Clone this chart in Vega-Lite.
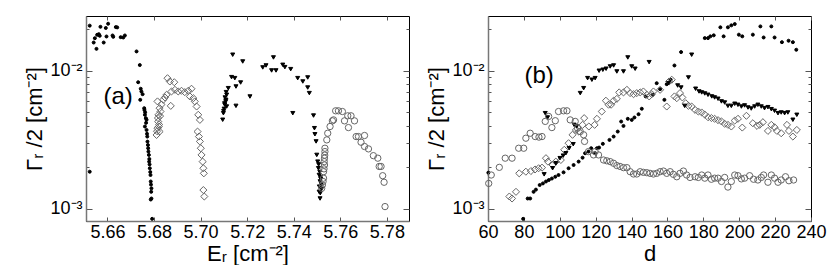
{
"$schema": "https://vega.github.io/schema/vega-lite/v6.json",
"background": "white",
"padding": {"left": 23, "top": 15, "right": 5, "bottom": 0},
"config": {
  "font": "Liberation Sans",
  "view": {"stroke": "#000", "strokeWidth": 1},
  "axis": {"labelFont": "Liberation Sans", "labelFontSize": 18, "labelColor": "#000", "titleFont": "Liberation Sans", "titleFontSize": 22, "titleFontWeight": "normal", "titleColor": "#000", "domainColor": "#777", "domainWidth": 1.5, "tickColor": "#555", "grid": false}
},
"spacing": 15,
"datasets": {
"a": [
{"E":5.6524,"G":0.0212,"s":"dot"},{"E":5.6570,"G":0.0208,"s":"dot"},{"E":5.6603,"G":0.0219,"s":"dot"},{"E":5.6593,"G":0.0204,"s":"dot"},{"E":5.6636,"G":0.0207,"s":"dot"},{"E":5.6642,"G":0.0206,"s":"dot"},{"E":5.6546,"G":0.0172,"s":"dot"},{"E":5.6541,"G":0.0160,"s":"dot"},{"E":5.6556,"G":0.0182,"s":"dot"},{"E":5.6567,"G":0.0179,"s":"dot"},{"E":5.6584,"G":0.0160,"s":"dot"},{"E":5.6596,"G":0.0177,"s":"dot"},{"E":5.6622,"G":0.0180,"s":"dot"},{"E":5.6625,"G":0.0176,"s":"dot"},{"E":5.6657,"G":0.0175,"s":"dot"},{"E":5.6668,"G":0.0174,"s":"dot"},{"E":5.6675,"G":0.0180,"s":"dot"},{"E":5.6553,"G":0.0144,"s":"dot"},{"E":5.6563,"G":0.0184,"s":"dot"},{"E":5.6524,"G":0.00186,"s":"dot"},{"E":5.6725,"G":0.0138,"s":"dot"},{"E":5.6739,"G":0.0110,"s":"dot"},{"E":5.6732,"G":0.00826,"s":"dot"},{"E":5.6743,"G":0.00741,"s":"dot"},{"E":5.6746,"G":0.00708,"s":"dot"},{"E":5.6751,"G":0.00677,"s":"dot"},{"E":5.6741,"G":0.00616,"s":"dot"},{"E":5.6758,"G":0.00536,"s":"dot"},{"E":5.6762,"G":0.00500,"s":"dot"},{"E":5.6759,"G":0.00520,"s":"dot"},{"E":5.6761,"G":0.00480,"s":"dot"},{"E":5.6765,"G":0.00454,"s":"dot"},{"E":5.6768,"G":0.00442,"s":"dot"},{"E":5.6766,"G":0.00420,"s":"dot"},{"E":5.6761,"G":0.00395,"s":"dot"},{"E":5.6768,"G":0.00373,"s":"dot"},{"E":5.6770,"G":0.00350,"s":"dot"},{"E":5.6771,"G":0.00334,"s":"dot"},{"E":5.6772,"G":0.00307,"s":"dot"},{"E":5.6774,"G":0.00290,"s":"dot"},{"E":5.6775,"G":0.00275,"s":"dot"},{"E":5.6776,"G":0.00260,"s":"dot"},{"E":5.6778,"G":0.00246,"s":"dot"},{"E":5.6780,"G":0.00230,"s":"dot"},{"E":5.6779,"G":0.00220,"s":"dot"},{"E":5.6781,"G":0.00210,"s":"dot"},{"E":5.6782,"G":0.00197,"s":"dot"},{"E":5.6784,"G":0.00185,"s":"dot"},{"E":5.6785,"G":0.00176,"s":"dot"},{"E":5.6786,"G":0.00158,"s":"dot"},{"E":5.6787,"G":0.00150,"s":"dot"},{"E":5.6789,"G":0.00141,"s":"dot"},{"E":5.6788,"G":0.00133,"s":"dot"},{"E":5.6789,"G":0.00119,"s":"dot"},{"E":5.6786,"G":0.00117,"s":"dot"},{"E":5.6792,"G":0.000848,"s":"dot"},
{"E":5.6811,"G":0.00343,"s":"diamond"},{"E":5.6815,"G":0.00384,"s":"diamond"},{"E":5.6818,"G":0.00429,"s":"diamond"},{"E":5.6819,"G":0.00480,"s":"diamond"},{"E":5.6824,"G":0.00536,"s":"diamond"},{"E":5.6828,"G":0.00507,"s":"diamond"},{"E":5.6822,"G":0.00408,"s":"diamond"},{"E":5.6824,"G":0.00363,"s":"diamond"},{"E":5.6817,"G":0.00455,"s":"diamond"},{"E":5.6821,"G":0.00395,"s":"diamond"},{"E":5.6813,"G":0.00365,"s":"diamond"},{"E":5.6826,"G":0.00470,"s":"diamond"},{"E":5.6815,"G":0.00600,"s":"diamond"},{"E":5.6832,"G":0.00570,"s":"diamond"},{"E":5.6840,"G":0.00617,"s":"diamond"},{"E":5.6847,"G":0.00641,"s":"diamond"},{"E":5.6854,"G":0.00670,"s":"diamond"},{"E":5.6858,"G":0.00883,"s":"diamond"},{"E":5.6868,"G":0.00836,"s":"diamond"},{"E":5.6887,"G":0.00826,"s":"diamond"},{"E":5.6872,"G":0.00557,"s":"diamond"},{"E":5.6875,"G":0.00708,"s":"diamond"},{"E":5.6890,"G":0.00728,"s":"diamond"},{"E":5.6904,"G":0.00708,"s":"diamond"},{"E":5.6918,"G":0.00716,"s":"diamond"},{"E":5.6932,"G":0.00700,"s":"diamond"},{"E":5.6947,"G":0.00716,"s":"diamond"},{"E":5.6954,"G":0.00652,"s":"diamond"},{"E":5.6961,"G":0.00741,"s":"diamond"},{"E":5.6969,"G":0.00633,"s":"diamond"},{"E":5.6975,"G":0.00600,"s":"diamond"},{"E":5.6983,"G":0.00551,"s":"diamond"},{"E":5.6990,"G":0.00480,"s":"diamond"},{"E":5.6997,"G":0.00441,"s":"diamond"},{"E":5.6987,"G":0.00363,"s":"diamond"},{"E":5.6993,"G":0.00334,"s":"diamond"},{"E":5.6997,"G":0.00308,"s":"diamond"},{"E":5.7001,"G":0.00275,"s":"diamond"},{"E":5.7004,"G":0.00246,"s":"diamond"},{"E":5.7009,"G":0.00220,"s":"diamond"},{"E":5.7012,"G":0.00197,"s":"diamond"},{"E":5.7014,"G":0.00181,"s":"diamond"},{"E":5.7012,"G":0.00137,"s":"diamond"},{"E":5.7016,"G":0.00123,"s":"diamond"},
{"E":5.7138,"G":0.01306,"s":"tri"},{"E":5.7181,"G":0.01167,"s":"tri"},{"E":5.7133,"G":0.00899,"s":"tri"},{"E":5.7147,"G":0.00884,"s":"tri"},{"E":5.7172,"G":0.00822,"s":"tri"},{"E":5.7152,"G":0.00769,"s":"tri"},{"E":5.7119,"G":0.00748,"s":"tri"},{"E":5.7112,"G":0.00670,"s":"tri"},{"E":5.7109,"G":0.00616,"s":"tri"},{"E":5.7104,"G":0.00567,"s":"tri"},{"E":5.7112,"G":0.00551,"s":"tri"},{"E":5.7098,"G":0.00493,"s":"tri"},{"E":5.7095,"G":0.00442,"s":"tri"},{"E":5.7108,"G":0.00600,"s":"tri"},{"E":5.7101,"G":0.00530,"s":"tri"},{"E":5.7105,"G":0.00640,"s":"tri"},{"E":5.7110,"G":0.00700,"s":"tri"},{"E":5.7103,"G":0.00580,"s":"tri"},{"E":5.7099,"G":0.00510,"s":"tri"},{"E":5.7152,"G":0.00557,"s":"tri"},{"E":5.7212,"G":0.00651,"s":"tri"},{"E":5.7267,"G":0.01057,"s":"tri"},{"E":5.7281,"G":0.01092,"s":"tri"},{"E":5.7313,"G":0.01248,"s":"tri"},{"E":5.7305,"G":0.01005,"s":"tri"},{"E":5.7324,"G":0.01005,"s":"tri"},{"E":5.7353,"G":0.01104,"s":"tri"},{"E":5.7362,"G":0.01062,"s":"tri"},{"E":5.7387,"G":0.01027,"s":"tri"},{"E":5.7417,"G":0.00884,"s":"tri"},{"E":5.7439,"G":0.00836,"s":"tri"},{"E":5.7460,"G":0.00894,"s":"tri"},{"E":5.7460,"G":0.00756,"s":"tri"},{"E":5.7467,"G":0.00689,"s":"tri"},{"E":5.7396,"G":0.00493,"s":"tri"},{"E":5.7485,"G":0.00474,"s":"tri"},{"E":5.7489,"G":0.00384,"s":"tri"},{"E":5.7491,"G":0.00347,"s":"tri"},{"E":5.7496,"G":0.00308,"s":"tri"},{"E":5.7499,"G":0.00246,"s":"tri"},{"E":5.7503,"G":0.00220,"s":"tri"},{"E":5.7506,"G":0.00197,"s":"tri"},{"E":5.7509,"G":0.00176,"s":"tri"},{"E":5.7513,"G":0.00158,"s":"tri"},{"E":5.7509,"G":0.00133,"s":"tri"},{"E":5.7513,"G":0.00119,"s":"tri"},{"E":5.7515,"G":0.00170,"s":"tri"},{"E":5.7512,"G":0.00185,"s":"tri"},{"E":5.7518,"G":0.00150,"s":"tri"},{"E":5.7520,"G":0.00140,"s":"tri"},{"E":5.7516,"G":0.00165,"s":"tri"},{"E":5.7510,"G":0.00145,"s":"tri"},{"E":5.7514,"G":0.00130,"s":"tri"},{"E":5.7507,"G":0.00210,"s":"tri"},
{"E":5.7520,"G":0.00141,"s":"circle"},{"E":5.7523,"G":0.00149,"s":"circle"},{"E":5.7528,"G":0.00167,"s":"circle"},{"E":5.7528,"G":0.00186,"s":"circle"},{"E":5.7532,"G":0.00208,"s":"circle"},{"E":5.7532,"G":0.00233,"s":"circle"},{"E":5.7534,"G":0.00260,"s":"circle"},{"E":5.7534,"G":0.00275,"s":"circle"},{"E":5.7530,"G":0.00195,"s":"circle"},{"E":5.7526,"G":0.00158,"s":"circle"},{"E":5.7531,"G":0.00220,"s":"circle"},{"E":5.7533,"G":0.00245,"s":"circle"},{"E":5.7542,"G":0.00316,"s":"circle"},{"E":5.7546,"G":0.00353,"s":"circle"},{"E":5.7556,"G":0.00395,"s":"circle"},{"E":5.7566,"G":0.00434,"s":"circle"},{"E":5.7571,"G":0.00441,"s":"circle"},{"E":5.7580,"G":0.00513,"s":"circle"},{"E":5.7592,"G":0.00513,"s":"circle"},{"E":5.7609,"G":0.00507,"s":"circle"},{"E":5.7618,"G":0.00434,"s":"circle"},{"E":5.7635,"G":0.00388,"s":"circle"},{"E":5.7632,"G":0.00472,"s":"circle"},{"E":5.7646,"G":0.00472,"s":"circle"},{"E":5.7661,"G":0.00434,"s":"circle"},{"E":5.7668,"G":0.00334,"s":"circle"},{"E":5.7678,"G":0.00334,"s":"circle"},{"E":5.7689,"G":0.00304,"s":"circle"},{"E":5.7704,"G":0.00340,"s":"circle"},{"E":5.7704,"G":0.00283,"s":"circle"},{"E":5.7721,"G":0.00272,"s":"circle"},{"E":5.7742,"G":0.00243,"s":"circle"},{"E":5.7761,"G":0.00233,"s":"circle"},{"E":5.7767,"G":0.00203,"s":"circle"},{"E":5.7775,"G":0.00203,"s":"circle"},{"E":5.7782,"G":0.00174,"s":"circle"},{"E":5.7788,"G":0.00156,"s":"circle"},{"E":5.7792,"G":0.00104,"s":"circle"}
],
"b": [
{"d":60.2,"G":0.00183,"s":"dot"},{"d":79.6,"G":0.000848,"s":"dot"},{"d":82.1,"G":0.00119,"s":"dot"},{"d":83.5,"G":0.00119,"s":"dot"},{"d":85.4,"G":0.00133,"s":"dot"},{"d":86.7,"G":0.00138,"s":"dot"},{"d":88.8,"G":0.00149,"s":"dot"},{"d":90.6,"G":0.00153,"s":"dot"},{"d":92.3,"G":0.00158,"s":"dot"},{"d":93.9,"G":0.00162,"s":"dot"},{"d":95.6,"G":0.00166,"s":"dot"},{"d":97.5,"G":0.00171,"s":"dot"},{"d":99.3,"G":0.00176,"s":"dot"},{"d":102.1,"G":0.00184,"s":"dot"},{"d":104.9,"G":0.00197,"s":"dot"},{"d":107.7,"G":0.00208,"s":"dot"},{"d":110.5,"G":0.00220,"s":"dot"},{"d":112.7,"G":0.00235,"s":"dot"},{"d":114.1,"G":0.00253,"s":"dot"},{"d":116.0,"G":0.00260,"s":"dot"},{"d":117.5,"G":0.00275,"s":"dot"},{"d":119.7,"G":0.00253,"s":"dot"},{"d":120.7,"G":0.00275,"s":"dot"},{"d":121.9,"G":0.00278,"s":"dot"},{"d":124.0,"G":0.00296,"s":"dot"},{"d":127.7,"G":0.00316,"s":"dot"},{"d":130.0,"G":0.00334,"s":"dot"},{"d":132.3,"G":0.00363,"s":"dot"},{"d":134.2,"G":0.00429,"s":"dot"},{"d":135.5,"G":0.00399,"s":"dot"},{"d":137.9,"G":0.00449,"s":"dot"},{"d":140.1,"G":0.00441,"s":"dot"},{"d":141.6,"G":0.00459,"s":"dot"},{"d":143.9,"G":0.00485,"s":"dot"},{"d":145.7,"G":0.00531,"s":"dot"},{"d":147.9,"G":0.00652,"s":"dot"},{"d":151.8,"G":0.00670,"s":"dot"},{"d":154.0,"G":0.00813,"s":"dot"},{"d":155.9,"G":0.00736,"s":"dot"},{"d":158.3,"G":0.00616,"s":"dot"},{"d":159.6,"G":0.00800,"s":"dot"},{"d":161.8,"G":0.00861,"s":"dot"},{"d":163.9,"G":0.01092,"s":"dot"},{"d":167.6,"G":0.01365,"s":"dot"},{"d":180.8,"G":0.01723,"s":"dot"},{"d":182.6,"G":0.01723,"s":"dot"},{"d":183.9,"G":0.01774,"s":"dot"},{"d":185.8,"G":0.01804,"s":"dot"},{"d":189.5,"G":0.02062,"s":"dot"},{"d":191.3,"G":0.01774,"s":"dot"},{"d":193.7,"G":0.02062,"s":"dot"},{"d":195.6,"G":0.02130,"s":"dot"},{"d":197.5,"G":0.02178,"s":"dot"},{"d":199.8,"G":0.01825,"s":"dot"},{"d":201.7,"G":0.01774,"s":"dot"},{"d":207.6,"G":0.01825,"s":"dot"},{"d":211.8,"G":0.02094,"s":"dot"},{"d":213.6,"G":0.01741,"s":"dot"},{"d":217.9,"G":0.02094,"s":"dot"},{"d":219.7,"G":0.01741,"s":"dot"},{"d":223.8,"G":0.01610,"s":"dot"},{"d":227.5,"G":0.01649,"s":"dot"},{"d":229.9,"G":0.01610,"s":"dot"},{"d":231.8,"G":0.01419,"s":"dot"},
{"d":71.9,"G":0.00123,"s":"diamond"},{"d":73.4,"G":0.00119,"s":"diamond"},{"d":75.6,"G":0.00133,"s":"diamond"},{"d":77.4,"G":0.00181,"s":"diamond"},{"d":81.1,"G":0.00186,"s":"diamond"},{"d":83.9,"G":0.00188,"s":"diamond"},{"d":86.2,"G":0.00193,"s":"diamond"},{"d":88.2,"G":0.00197,"s":"diamond"},{"d":90.1,"G":0.00199,"s":"diamond"},{"d":92.3,"G":0.00233,"s":"diamond"},{"d":93.4,"G":0.00220,"s":"diamond"},{"d":96.0,"G":0.00208,"s":"diamond"},{"d":97.8,"G":0.00220,"s":"diamond"},{"d":100.6,"G":0.00226,"s":"diamond"},{"d":102.5,"G":0.00268,"s":"diamond"},{"d":104.9,"G":0.00299,"s":"diamond"},{"d":107.1,"G":0.00344,"s":"diamond"},{"d":109.0,"G":0.00373,"s":"diamond"},{"d":110.6,"G":0.00363,"s":"diamond"},{"d":112.7,"G":0.00406,"s":"diamond"},{"d":113.6,"G":0.00454,"s":"diamond"},{"d":116.2,"G":0.00395,"s":"diamond"},{"d":119.4,"G":0.00406,"s":"diamond"},{"d":120.7,"G":0.00449,"s":"diamond"},{"d":123.4,"G":0.00507,"s":"diamond"},{"d":125.7,"G":0.00607,"s":"diamond"},{"d":127.2,"G":0.00568,"s":"diamond"},{"d":128.6,"G":0.00568,"s":"diamond"},{"d":130.0,"G":0.00607,"s":"diamond"},{"d":131.8,"G":0.00626,"s":"diamond"},{"d":133.1,"G":0.00697,"s":"diamond"},{"d":135.5,"G":0.00697,"s":"diamond"},{"d":137.4,"G":0.00728,"s":"diamond"},{"d":139.2,"G":0.00689,"s":"diamond"},{"d":141.1,"G":0.00677,"s":"diamond"},{"d":142.9,"G":0.00689,"s":"diamond"},{"d":144.8,"G":0.00697,"s":"diamond"},{"d":146.6,"G":0.00708,"s":"diamond"},{"d":148.5,"G":0.00670,"s":"diamond"},{"d":149.8,"G":0.00652,"s":"diamond"},{"d":151.3,"G":0.00677,"s":"diamond"},{"d":152.2,"G":0.00708,"s":"diamond"},{"d":155.9,"G":0.00728,"s":"diamond"},{"d":159.6,"G":0.00551,"s":"diamond"},{"d":160.9,"G":0.00836,"s":"diamond"},{"d":162.4,"G":0.00861,"s":"diamond"},{"d":163.9,"G":0.00652,"s":"diamond"},{"d":165.2,"G":0.00633,"s":"diamond"},{"d":167.0,"G":0.00689,"s":"diamond"},{"d":168.3,"G":0.00641,"s":"diamond"},{"d":170.2,"G":0.00582,"s":"diamond"},{"d":171.7,"G":0.00557,"s":"diamond"},{"d":173.5,"G":0.00551,"s":"diamond"},{"d":175.4,"G":0.00521,"s":"diamond"},{"d":177.2,"G":0.00507,"s":"diamond"},{"d":179.1,"G":0.00499,"s":"diamond"},{"d":180.8,"G":0.00482,"s":"diamond"},{"d":182.6,"G":0.00461,"s":"diamond"},{"d":184.5,"G":0.00455,"s":"diamond"},{"d":186.3,"G":0.00449,"s":"diamond"},{"d":188.2,"G":0.00439,"s":"diamond"},{"d":190.1,"G":0.00430,"s":"diamond"},{"d":191.9,"G":0.00413,"s":"diamond"},{"d":193.7,"G":0.00406,"s":"diamond"},{"d":195.6,"G":0.00395,"s":"diamond"},{"d":197.5,"G":0.00436,"s":"diamond"},{"d":199.3,"G":0.00449,"s":"diamond"},{"d":201.7,"G":0.00388,"s":"diamond"},{"d":204.0,"G":0.00472,"s":"diamond"},{"d":207.6,"G":0.00417,"s":"diamond"},{"d":209.9,"G":0.00399,"s":"diamond"},{"d":211.4,"G":0.00406,"s":"diamond"},{"d":213.2,"G":0.00424,"s":"diamond"},{"d":216.0,"G":0.00367,"s":"diamond"},{"d":217.9,"G":0.00406,"s":"diamond"},{"d":219.7,"G":0.00390,"s":"diamond"},{"d":221.0,"G":0.00367,"s":"diamond"},{"d":223.4,"G":0.00353,"s":"diamond"},{"d":226.6,"G":0.00406,"s":"diamond"},{"d":227.7,"G":0.00367,"s":"diamond"},{"d":229.9,"G":0.00334,"s":"diamond"},{"d":232.1,"G":0.00373,"s":"diamond"},
{"d":91.3,"G":0.00178,"s":"tri"},{"d":91.9,"G":0.00493,"s":"tri"},{"d":93.2,"G":0.00459,"s":"tri"},{"d":96.0,"G":0.00197,"s":"tri"},{"d":97.8,"G":0.00214,"s":"tri"},{"d":100.1,"G":0.00233,"s":"tri"},{"d":101.9,"G":0.00243,"s":"tri"},{"d":103.4,"G":0.00253,"s":"tri"},{"d":105.2,"G":0.00275,"s":"tri"},{"d":107.5,"G":0.00294,"s":"tri"},{"d":108.0,"G":0.00406,"s":"tri"},{"d":109.4,"G":0.00395,"s":"tri"},{"d":111.4,"G":0.00689,"s":"tri"},{"d":113.3,"G":0.00748,"s":"tri"},{"d":115.5,"G":0.00884,"s":"tri"},{"d":117.9,"G":0.00861,"s":"tri"},{"d":119.7,"G":0.00884,"s":"tri"},{"d":121.9,"G":0.0100,"s":"tri"},{"d":124.0,"G":0.01017,"s":"tri"},{"d":125.8,"G":0.01034,"s":"tri"},{"d":128.1,"G":0.01074,"s":"tri"},{"d":130.0,"G":0.01092,"s":"tri"},{"d":131.8,"G":0.00988,"s":"tri"},{"d":135.5,"G":0.00988,"s":"tri"},{"d":137.9,"G":0.01248,"s":"tri"},{"d":140.1,"G":0.01074,"s":"tri"},{"d":142.0,"G":0.01034,"s":"tri"},{"d":149.8,"G":0.01154,"s":"tri"},{"d":160.6,"G":0.00813,"s":"tri"},{"d":165.7,"G":0.00782,"s":"tri"},{"d":167.6,"G":0.00756,"s":"tri"},{"d":169.6,"G":0.00557,"s":"tri"},{"d":171.7,"G":0.00894,"s":"tri"},{"d":173.5,"G":0.01306,"s":"tri"},{"d":175.7,"G":0.00741,"s":"tri"},{"d":177.6,"G":0.00708,"s":"tri"},{"d":179.1,"G":0.00697,"s":"tri"},{"d":180.8,"G":0.00685,"s":"tri"},{"d":182.6,"G":0.00670,"s":"tri"},{"d":184.7,"G":0.00652,"s":"tri"},{"d":186.3,"G":0.00641,"s":"tri"},{"d":188.2,"G":0.00627,"s":"tri"},{"d":190.1,"G":0.00600,"s":"tri"},{"d":191.9,"G":0.00589,"s":"tri"},{"d":193.7,"G":0.00557,"s":"tri"},{"d":195.6,"G":0.00557,"s":"tri"},{"d":197.5,"G":0.00577,"s":"tri"},{"d":199.3,"G":0.00567,"s":"tri"},{"d":201.2,"G":0.00551,"s":"tri"},{"d":203.0,"G":0.00561,"s":"tri"},{"d":204.9,"G":0.00542,"s":"tri"},{"d":206.7,"G":0.00533,"s":"tri"},{"d":208.6,"G":0.00551,"s":"tri"},{"d":210.4,"G":0.00567,"s":"tri"},{"d":212.3,"G":0.00551,"s":"tri"},{"d":214.1,"G":0.00536,"s":"tri"},{"d":216.0,"G":0.00545,"s":"tri"},{"d":217.9,"G":0.00527,"s":"tri"},{"d":219.7,"G":0.00513,"s":"tri"},{"d":221.6,"G":0.00493,"s":"tri"},{"d":223.4,"G":0.00499,"s":"tri"},{"d":225.3,"G":0.00493,"s":"tri"},{"d":227.1,"G":0.00499,"s":"tri"},{"d":229.9,"G":0.00442,"s":"tri"},{"d":232.1,"G":0.00480,"s":"tri"},
{"d":60.4,"G":0.00153,"s":"circle"},{"d":61.8,"G":0.00176,"s":"circle"},{"d":66.3,"G":0.00200,"s":"circle"},{"d":69.6,"G":0.00233,"s":"circle"},{"d":73.4,"G":0.00233,"s":"circle"},{"d":77.1,"G":0.00275,"s":"circle"},{"d":79.9,"G":0.00275,"s":"circle"},{"d":81.1,"G":0.00325,"s":"circle"},{"d":83.5,"G":0.00353,"s":"circle"},{"d":86.3,"G":0.00334,"s":"circle"},{"d":88.4,"G":0.00331,"s":"circle"},{"d":90.1,"G":0.00334,"s":"circle"},{"d":91.9,"G":0.00430,"s":"circle"},{"d":93.8,"G":0.00467,"s":"circle"},{"d":95.6,"G":0.00388,"s":"circle"},{"d":97.5,"G":0.00435,"s":"circle"},{"d":99.3,"G":0.00507,"s":"circle"},{"d":102.1,"G":0.00513,"s":"circle"},{"d":104.0,"G":0.00513,"s":"circle"},{"d":105.8,"G":0.00441,"s":"circle"},{"d":108.6,"G":0.00430,"s":"circle"},{"d":109.9,"G":0.00384,"s":"circle"},{"d":111.4,"G":0.00363,"s":"circle"},{"d":113.3,"G":0.00344,"s":"circle"},{"d":113.8,"G":0.00308,"s":"circle"},{"d":116.0,"G":0.00260,"s":"circle"},{"d":118.8,"G":0.00246,"s":"circle"},{"d":119.7,"G":0.00260,"s":"circle"},{"d":121.6,"G":0.00246,"s":"circle"},{"d":124.4,"G":0.00226,"s":"circle"},{"d":126.2,"G":0.00223,"s":"circle"},{"d":128.1,"G":0.00220,"s":"circle"},{"d":130.0,"G":0.00214,"s":"circle"},{"d":131.8,"G":0.00206,"s":"circle"},{"d":133.6,"G":0.00203,"s":"circle"},{"d":135.5,"G":0.00199,"s":"circle"},{"d":137.4,"G":0.00199,"s":"circle"},{"d":139.2,"G":0.00186,"s":"circle"},{"d":141.1,"G":0.00179,"s":"circle"},{"d":142.9,"G":0.00179,"s":"circle"},{"d":144.8,"G":0.00186,"s":"circle"},{"d":146.6,"G":0.00184,"s":"circle"},{"d":148.5,"G":0.00183,"s":"circle"},{"d":150.3,"G":0.00181,"s":"circle"},{"d":152.2,"G":0.00179,"s":"circle"},{"d":154.0,"G":0.00181,"s":"circle"},{"d":155.9,"G":0.00186,"s":"circle"},{"d":157.8,"G":0.00188,"s":"circle"},{"d":159.6,"G":0.00181,"s":"circle"},{"d":161.5,"G":0.00186,"s":"circle"},{"d":163.3,"G":0.00178,"s":"circle"},{"d":165.2,"G":0.00171,"s":"circle"},{"d":167.0,"G":0.00181,"s":"circle"},{"d":168.9,"G":0.00188,"s":"circle"},{"d":170.7,"G":0.00176,"s":"circle"},{"d":172.6,"G":0.00169,"s":"circle"},{"d":175.4,"G":0.00171,"s":"circle"},{"d":177.2,"G":0.00169,"s":"circle"},{"d":179.1,"G":0.00176,"s":"circle"},{"d":180.8,"G":0.00167,"s":"circle"},{"d":182.6,"G":0.00176,"s":"circle"},{"d":184.5,"G":0.00164,"s":"circle"},{"d":186.3,"G":0.00167,"s":"circle"},{"d":188.2,"G":0.00167,"s":"circle"},{"d":190.1,"G":0.00158,"s":"circle"},{"d":191.9,"G":0.00169,"s":"circle"},{"d":193.7,"G":0.00144,"s":"circle"},{"d":195.6,"G":0.00158,"s":"circle"},{"d":197.5,"G":0.00176,"s":"circle"},{"d":199.3,"G":0.00174,"s":"circle"},{"d":201.2,"G":0.00165,"s":"circle"},{"d":203.0,"G":0.00167,"s":"circle"},{"d":205.8,"G":0.00174,"s":"circle"},{"d":208.0,"G":0.00164,"s":"circle"},{"d":210.4,"G":0.00162,"s":"circle"},{"d":212.3,"G":0.00169,"s":"circle"},{"d":213.6,"G":0.00176,"s":"circle"},{"d":216.0,"G":0.00156,"s":"circle"},{"d":217.9,"G":0.00176,"s":"circle"},{"d":219.7,"G":0.00167,"s":"circle"},{"d":221.6,"G":0.00156,"s":"circle"},{"d":223.4,"G":0.00162,"s":"circle"},{"d":225.8,"G":0.00171,"s":"circle"},{"d":227.7,"G":0.00160,"s":"circle"},{"d":230.3,"G":0.00162,"s":"circle"}
],
"la": [{"label": "(a)"}],
"lb": [{"label": "(b)"}]
},
"hconcat": [
{
 "width": 323, "height": 205,
 "layer": [
  {"data": {"name": "a"},
   "mark": {"type": "point", "strokeWidth": 1, "opacity": 1},
   "encoding": {
    "x": {"field": "E", "type": "quantitative", "scale": {"domain": [5.6508, 5.7895], "nice": false, "zero": false},
      "axis": {"orient": "bottom", "values": [5.66,5.68,5.70,5.72,5.74,5.76,5.78], "format": ".2f", "tickSize": -4, "labelPadding": 6, "title": "Eᵣ [cm⁻²]", "titlePadding": 2, "labelFlush": false}},
    "y": {"field": "G", "type": "quantitative", "scale": {"type": "log", "domain": [0.000818, 0.0249], "nice": false},
      "axis": {"orient": "left", "values": [0.001,0.002,0.003,0.004,0.005,0.006,0.007,0.008,0.009,0.01,0.02], "labelExpr": "datum.value == 0.01 ? '10⁻²' : (datum.value == 0.001 ? '10⁻³' : '')", "tickSize": {"condition": {"test": "datum.value == 0.01 || datum.value == 0.001", "value": -6}, "value": -3}, "labelPadding": 10, "title": "Γᵣ /2 [cm⁻²]", "titlePadding": 3}},
    "shape": {"field": "s", "type": "nominal", "scale": {"domain": ["dot","diamond","tri","circle"], "range": ["circle","diamond","triangle-down","circle"]}, "legend": null},
    "fill": {"field": "s", "type": "nominal", "scale": {"domain": ["dot","diamond","tri","circle"], "range": ["#000","transparent","#000","transparent"]}, "legend": null},
    "stroke": {"field": "s", "type": "nominal", "scale": {"domain": ["dot","diamond","tri","circle"], "range": ["#000","#666","#000","#666"]}, "legend": null},
    "size": {"field": "s", "type": "nominal", "scale": {"type": "ordinal", "domain": ["dot","diamond","tri","circle"], "range": [9, 50, 16, 40]}, "legend": null}
   }},
  {"data": {"name": "a"},
   "mark": {"type": "point", "opacity": 0},
   "encoding": {
    "x": {"field": "E", "type": "quantitative", "axis": {"orient": "top", "values": [5.66,5.68,5.70,5.72,5.74,5.76,5.78], "labels": false, "title": null, "tickSize": -4, "domain": false}},
    "y": {"field": "G", "type": "quantitative", "axis": {"orient": "right", "values": [0.001,0.002,0.003,0.004,0.005,0.006,0.007,0.008,0.009,0.01,0.02], "labels": false, "title": null, "domain": false, "tickSize": {"condition": {"test": "datum.value == 0.01 || datum.value == 0.001", "value": -6}, "value": -3}}}
   }},
  {"data": {"name": "la"},
   "mark": {"type": "text", "fontSize": 24, "font": "Liberation Sans", "align": "center", "baseline": "middle"},
   "encoding": {
    "x": {"datum": 5.6646, "type": "quantitative", "axis": null},
    "y": {"datum": 0.00648, "type": "quantitative", "axis": null},
    "text": {"field": "label"}
   }}
 ],
 "resolve": {"axis": {"x": "independent", "y": "independent"}}
},
{
 "width": 323, "height": 205,
 "layer": [
  {"data": {"name": "b"},
   "mark": {"type": "point", "strokeWidth": 1, "opacity": 1},
   "encoding": {
    "x": {"field": "d", "type": "quantitative", "scale": {"domain": [60, 240], "nice": false, "zero": false},
      "axis": {"orient": "bottom", "values": [60,80,100,120,140,160,180,200,220,240], "tickSize": -4, "labelPadding": 6, "title": "d", "titlePadding": 2, "labelFlush": false}},
    "y": {"field": "G", "type": "quantitative", "scale": {"type": "log", "domain": [0.000818, 0.0249], "nice": false},
      "axis": {"orient": "left", "values": [0.001,0.002,0.003,0.004,0.005,0.006,0.007,0.008,0.009,0.01,0.02], "labelExpr": "datum.value == 0.01 ? '10⁻²' : (datum.value == 0.001 ? '10⁻³' : '')", "tickSize": {"condition": {"test": "datum.value == 0.01 || datum.value == 0.001", "value": -6}, "value": -3}, "labelPadding": 10, "title": "Γᵣ /2 [cm⁻²]", "titlePadding": 3}},
    "shape": {"field": "s", "type": "nominal", "scale": {"domain": ["dot","diamond","tri","circle"], "range": ["circle","diamond","triangle-down","circle"]}, "legend": null},
    "fill": {"field": "s", "type": "nominal", "scale": {"domain": ["dot","diamond","tri","circle"], "range": ["#000","transparent","#000","transparent"]}, "legend": null},
    "stroke": {"field": "s", "type": "nominal", "scale": {"domain": ["dot","diamond","tri","circle"], "range": ["#000","#666","#000","#666"]}, "legend": null},
    "size": {"field": "s", "type": "nominal", "scale": {"type": "ordinal", "domain": ["dot","diamond","tri","circle"], "range": [9, 50, 16, 40]}, "legend": null}
   }},
  {"data": {"name": "b"},
   "mark": {"type": "point", "opacity": 0},
   "encoding": {
    "x": {"field": "d", "type": "quantitative", "axis": {"orient": "top", "values": [60,80,100,120,140,160,180,200,220,240], "labels": false, "title": null, "tickSize": -4, "domain": false}},
    "y": {"field": "G", "type": "quantitative", "axis": {"orient": "right", "values": [0.001,0.002,0.003,0.004,0.005,0.006,0.007,0.008,0.009,0.01,0.02], "labels": false, "title": null, "domain": false, "tickSize": {"condition": {"test": "datum.value == 0.01 || datum.value == 0.001", "value": -6}, "value": -3}}}
   }},
  {"data": {"name": "lb"},
   "mark": {"type": "text", "fontSize": 24, "font": "Liberation Sans", "align": "center", "baseline": "middle"},
   "encoding": {
    "x": {"datum": 88.5, "type": "quantitative", "axis": null},
    "y": {"datum": 0.0091, "type": "quantitative", "axis": null},
    "text": {"field": "label"}
   }}
 ],
 "resolve": {"axis": {"x": "independent", "y": "independent"}}
}
]
}
